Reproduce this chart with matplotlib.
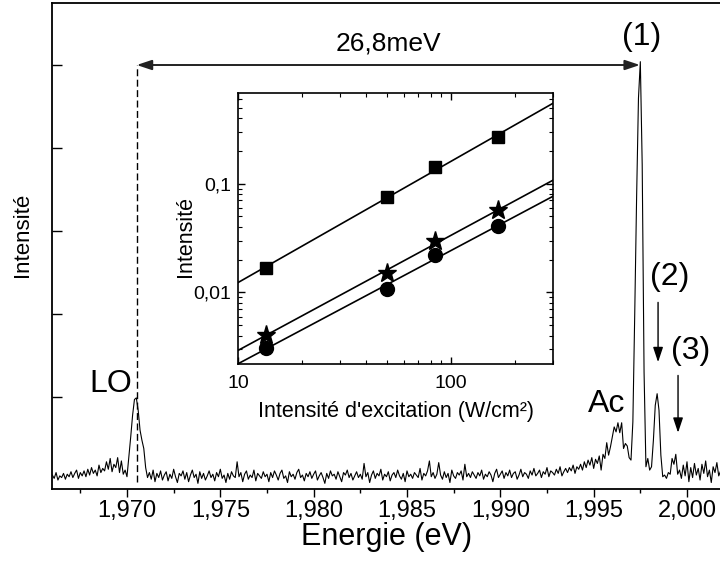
import numpy as np
import matplotlib.pyplot as plt
from matplotlib.ticker import MultipleLocator, FuncFormatter, NullFormatter, LogLocator

plt.rcParams['font.family'] = ['Liberation Sans', 'DejaVu Sans']

# PL spectrum: channel grid (eV) and intensity (arb. units, one y tick = 100)
E_START = 1.9660
E_STEP = 0.0001
intensity = [
    6, 2, 9, 0, 5, 3, 8, 1, 7, 4,
    10, 3, 8, 12, 2, 9, 5, 11, 4, 13,
    6, 15, 8, 12, 5, 18, 9, 14, 11, 22,
    13, 26, 10, 19, 15, 27, 9, 23, 7, 12,
    # LO replica
    4, 28, 52, 78, 97, 99, 84, 60, 48, 38, 15, 3,
    # background
    9, 1, 12, -2, 8, 3, 11, 0, 6, 10, -1, 7, 2, 13, 4, -3,
    8, 5, 11, 1, 9, -2, 6, 12, 3, 7, -4, 10, 2, 8, 0, 5,
    11, 3, 7, -1, 9, 4, 13, 2, 6, -3, 8, 1, 10, 5, 3, 22,
    4, 9, -2, 7, 11, 1, 6, 3, 12, -1, 8, 5, 2, 10, 4, 7,
    -2, 9, 3, 11, 6, 0, 8, 12, 2, 5, -3, 10, 4, 7, 1, 9,
    13, 3, 6, -1, 8, 4, 10, 2, 7, 11, 0, 5, 9, 3, -4, 8,
    2, 11, 5, 7, 1, 10, 4, -2, 9, 6, 12, 3, 8, 0, 5, 10,
    3, 7, 1, 20, 4, 9, -3, 6, 11, 2, 8, 5, 13, 0, 7, 4,
    10, -1, 6, 9, 3, 12, 5, 1, 8, -2, 11, 4, 7, 2, 9, 6,
    3, 14, 0, 8, 5, 11, 23, 4, 9, 2, 7, 21, 6, 1, 10, 3,
    8, -3, 12, 5, 2, 9, 6, 11, 0, 19, 4, 8, 3, 10, 6, 2,
    9, 5, 12, 1, 7, 4, 10, 6, -2, 8, 13, 3, 7, 11, 2, 9,
    5, 12, 3, 8, 10, 1, 6, 13, 4, 9, 7, 2, 11, 6, 14, 5,
    8, 12, 3, 10, 7, 15, 4, 11, 9, 6, 13, 8, 16, 5, 10, 14,
    # acoustic wing
    9, 15, 11, 18, 8, 16, 13, 19, 12, 22,
    15, 24, 18, 27, 14, 25, 20, 29, 12, 31,
    26, 45, 30, 40, 52, 64, 58, 69, 57, 69,
    38, 44, 41, 27,
    # peak (1), (2), (3)
    24, 70, 200, 340, 460, 504, 380, 130, 16,
    26, 12, 16, 48, 90, 104, 84, 30, 4, 6, 2, 9, 7, 26, 19, 31, 7,
    12, 2, 18, 5, 22, -2, 15, 3, 20, 6, 14, 0,
    19, 8, 23, 4, 12, -3, 16, 9, 21, 5, 11, 7,
]

E_LO = 1.97052   # LO phonon replica
E_X = 1.99748    # line (1)
E_P2 = 1.99845
E_P3 = 1.99952
E_AC = 1.99568
split_label = "26,8meV"

# inset: intensity vs excitation power
power = [13.5, 50, 84, 166]
int_square = [0.0168, 0.075, 0.142, 0.267]
int_star = [0.0041, 0.015, 0.0297, 0.057]
int_circle = [0.0031, 0.0107, 0.022, 0.041]

energy = E_START + E_STEP * np.arange(len(intensity))

fig = plt.figure(figsize=(7.2, 5.63), dpi=100)
ax = fig.add_axes([51.7 / 720, 74 / 563, 670.3 / 720, 486 / 563])

ax.plot(energy, intensity, color='black', lw=0.8)
ax.set_xlim(1.965967, 2.001875)
ax.set_ylim(-10.8, 574.7)

ax.xaxis.set_major_locator(MultipleLocator(0.005))
ax.xaxis.set_minor_locator(MultipleLocator(0.0025))
ax.xaxis.set_major_formatter(FuncFormatter(lambda v, p: f"{v:.3f}".replace('.', ',')))
ax.set_yticks([100, 200, 300, 400, 500])
ax.tick_params(axis='y', direction='in', length=7, width=1, labelleft=False)
ax.tick_params(axis='x', which='major', direction='out', length=6, width=1, labelsize=17, pad=2)
ax.tick_params(axis='x', which='minor', direction='out', length=3, width=1)
ax.spines['right'].set_visible(False)
for s in ('left', 'bottom', 'top'):
    ax.spines[s].set_linewidth(1.3)

ax.set_xlabel('Energie (eV)', fontsize=22)
ax.xaxis.set_label_coords(0.5, -0.099)
ax.xaxis.label.set_va('center')
ax.set_ylabel('Intensité', fontsize=16)
ax.yaxis.set_label_coords(-0.043, 0.523)
ax.yaxis.label.set_va('center')

# LO marker and splitting arrow
ax.plot([E_LO, E_LO], [-2, 500], color='black', lw=1, dashes=(5, 2.5))
ax.annotate('', xy=(E_X, 500), xytext=(E_LO, 500),
            arrowprops=dict(arrowstyle='<|-|>,head_length=0.9,head_width=0.3',
                            color='#222222', lw=1.4, shrinkA=0, shrinkB=0,
                            mutation_scale=10))
ax.text((E_LO + E_X) / 2, 517, split_label, ha='center', va='baseline', fontsize=19)

ax.text(E_X + 0.0001, 534, '(1)', ha='center', va='center', fontsize=23)
ax.text(E_P2 + 0.0006, 245, '(2)', ha='center', va='center', fontsize=23)
ax.text(E_P3 + 0.0007, 155, '(3)', ha='center', va='center', fontsize=23)
ax.text(E_AC, 82, 'Ac', ha='center', va='baseline', fontsize=23)
ax.text(E_LO - 0.0014, 106, 'LO', ha='center', va='baseline', fontsize=23)

for xe, y0, y1 in ((E_P2, 214, 142), (E_P3, 126, 57)):
    ax.annotate('', xy=(xe, y1), xytext=(xe, y0),
                arrowprops=dict(arrowstyle='-|>,head_length=0.9,head_width=0.3',
                                color='black', lw=1, shrinkA=0, shrinkB=0,
                                mutation_scale=10))

# inset
ax2 = fig.add_axes([238 / 720, 199 / 563, 315 / 720, 271 / 563])
ax2.set_xscale('log')
ax2.set_yscale('log')
ax2.set_xlim(10, 300)
ax2.set_ylim(0.0022, 0.68)

xfit = np.array([10, 300])
for vals, mk, ms in ((int_square, 's', 9), (int_star, '*', 14), (int_circle, 'o', 10)):
    ax2.plot(power, vals, ls='none', marker=mk, ms=ms, color='black')
    k, b = np.polyfit(np.log10(power), np.log10(vals), 1)
    ax2.plot(xfit, 10 ** (b + k * np.log10(xfit)), color='black', lw=1.2)

fmt = FuncFormatter(lambda v, p: ('%g' % v).replace('.', ','))
ax2.xaxis.set_major_formatter(fmt)
ax2.yaxis.set_major_formatter(fmt)
ax2.xaxis.set_minor_formatter(NullFormatter())
ax2.yaxis.set_minor_formatter(NullFormatter())
ax2.yaxis.set_minor_locator(LogLocator(subs=np.arange(2, 10)))
ax2.tick_params(which='both', direction='in', top=True, right=True, labelsize=14)
ax2.tick_params(which='major', length=5, width=1)
ax2.tick_params(which='minor', length=3, width=0.8)
ax2.tick_params(axis='x', pad=8)
ax2.tick_params(axis='y', pad=5)
for s in ax2.spines.values():
    s.set_linewidth(1.2)

ax2.set_xlabel("Intensité d'excitation (W/cm²)", fontsize=15.5)
ax2.xaxis.set_label_coords(0.5, -0.177)
ax2.xaxis.label.set_va('center')
ax2.set_ylabel('Intensité', fontsize=15.5)
ax2.yaxis.set_label_coords(-0.168, 0.469)
ax2.yaxis.label.set_va('center')

fig.savefig('out.png', dpi=100)
